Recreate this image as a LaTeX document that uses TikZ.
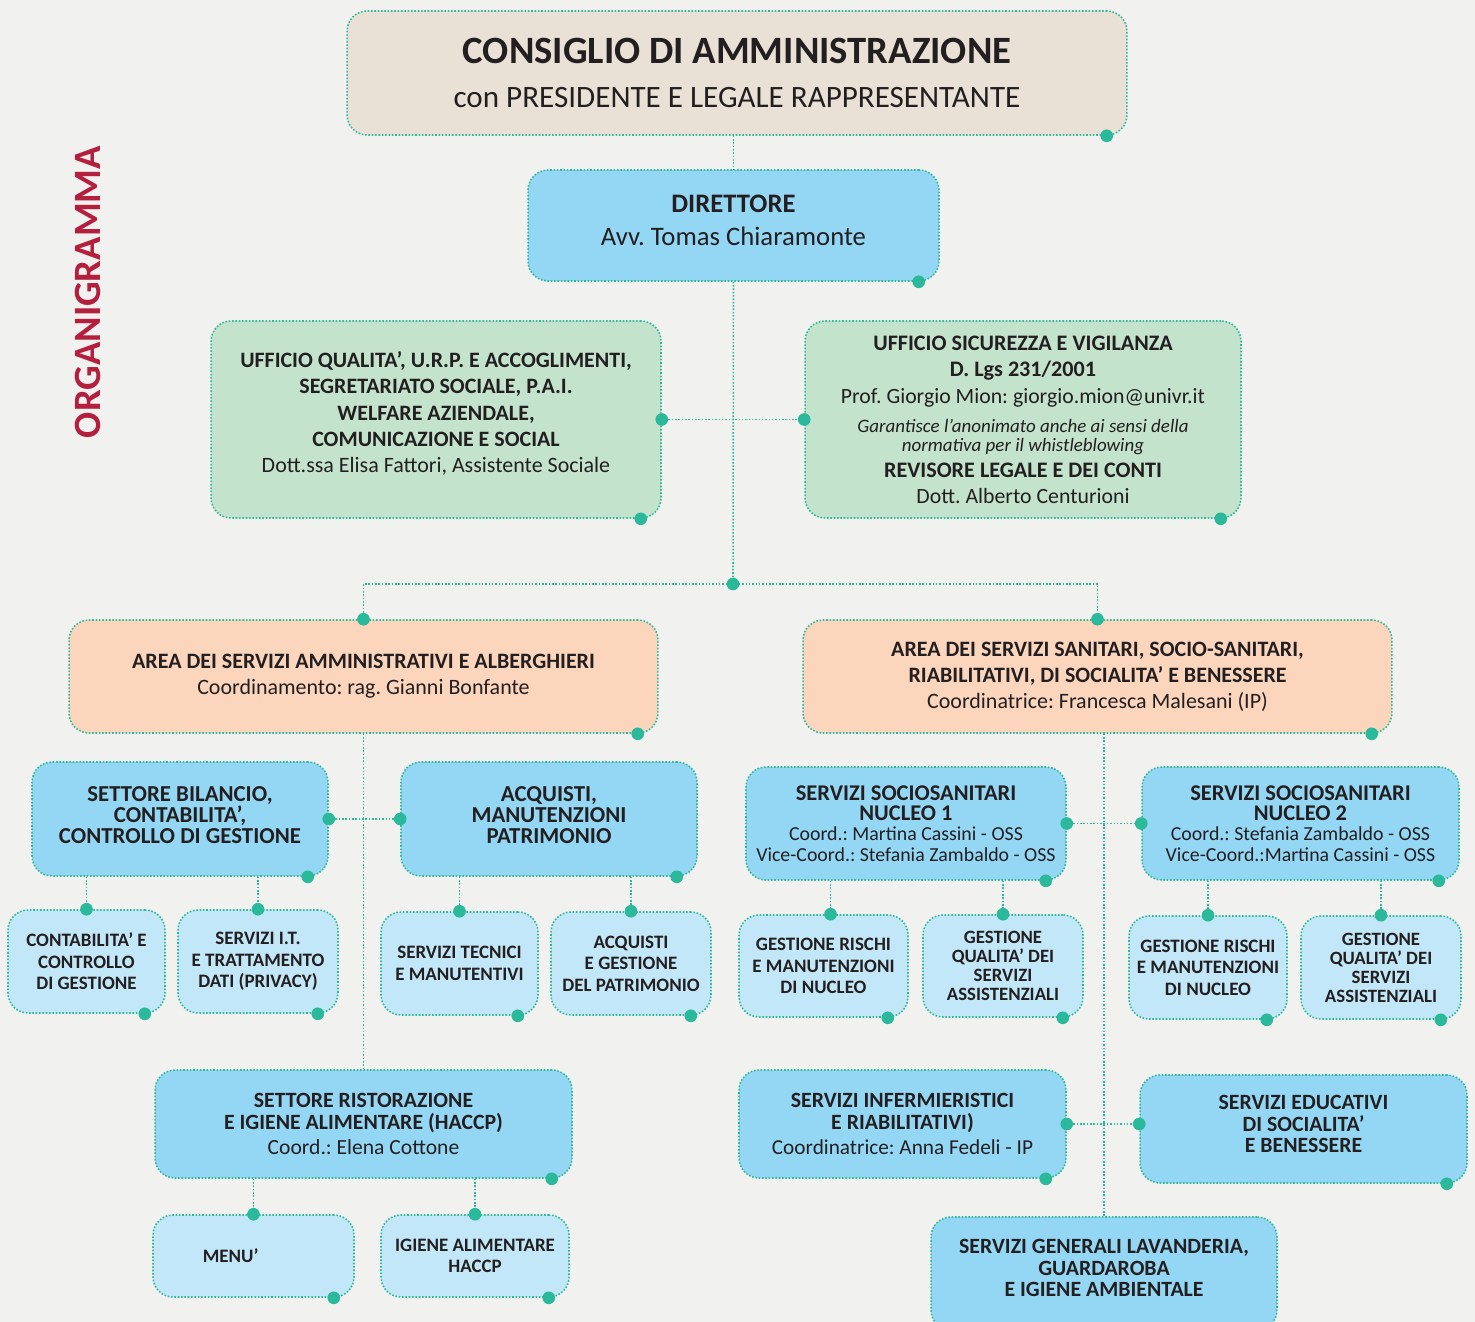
\documentclass[tikz,border=0pt]{standalone}
\usepackage{fontspec}
\setmainfont{Carlito}
\usetikzlibrary{calc}
\frenchspacing
\lineskiplimit=-20pt

\definecolor{sfondo}{HTML}{F1F1EF}
\definecolor{acqua}{HTML}{2BB99B}
\definecolor{beige}{HTML}{E9E1D5}
\definecolor{azzurro}{HTML}{94D7F5}
\definecolor{celeste}{HTML}{C2E7F8}
\definecolor{menta}{HTML}{C3E3CC}
\definecolor{pesca}{HTML}{FCD5BD}
\definecolor{rosso}{HTML}{B51F3E}
\definecolor{inchiostro}{HTML}{231F20}

\tikzset{
  riquadro/.style={rectangle, rounded corners=0.4cm, draw=acqua, densely dotted, line width=0.9pt, align=center, text=inchiostro, inner sep=0pt},
  blu/.style={riquadro, fill=azzurro, font=\bfseries\fontsize{12.4}{12.2}\selectfont},
  chiaro/.style={riquadro, fill=celeste, font=\bfseries\fontsize{10.8}{12.2}\selectfont},
  verde/.style={riquadro, fill=menta},
  arancio/.style={riquadro, fill=pesca, minimum width=11.78cm, minimum height=2.26cm, font=\bfseries\fontsize{12.5}{14.7}\selectfont},
  collega/.style={draw=acqua, densely dotted, line width=0.9pt}
}

\begin{document}
\begin{tikzpicture}[x=0.02cm, y=-0.02cm]
\useasboundingbox (0,0) rectangle (1475,1322);
\fill[sfondo] (0,0) rectangle (1475,1322);
\clip (0,0) rectangle (1475,1322);

\node (titolo) [rotate=90, text=rosso, font=\bfseries\fontsize{22}{22}\selectfont] at (88,292) {ORGANIGRAMMA};

% vertice
\node (cda) [riquadro, fill=beige, minimum width=15.6cm, minimum height=2.48cm, font=\fontsize{17.7}{25}\selectfont] at (737,73) {\bfseries\fontsize{22}{25}\selectfont CONSIGLIO DI AMMINISTRAZIONE\\con PRESIDENTE E LEGALE RAPPRESENTANTE};
\node (dir) [riquadro, fill=azzurro, minimum width=8.22cm, minimum height=2.22cm, text depth=5.6pt, font=\fontsize{15.2}{18.7}\selectfont] at (733.5,225.5) {\bfseries DIRETTORE\\Avv. Tomas Chiaramonte};

% uffici di staff
\node (urp) [verde, minimum width=9cm, minimum height=3.94cm, text depth=8.4pt, font=\bfseries\fontsize{12.5}{15}\selectfont] at (436,419.5) {UFFICIO QUALITA’, U.R.P. E ACCOGLIMENTI,\\SEGRETARIATO SOCIALE, P.A.I.\\WELFARE AZIENDALE,\\COMUNICAZIONE E SOCIAL\\\mdseries Dott.ssa Elisa Fattori, Assistente Sociale};
\node (sic) [verde, minimum width=8.72cm, minimum height=3.94cm, font=\bfseries\fontsize{12.6}{10.8}\selectfont] at (1023,419.5) {UFFICIO SICUREZZA E VIGILANZA\\[4pt]D. Lgs 231/2001\\[4.5pt]\mdseries\fontsize{12.4}{10.8}\selectfont Prof. Giorgio Mion: giorgio.mion@univr.it\\[5.7pt]\mdseries\itshape\fontsize{10.8}{10.8}\selectfont Garantisce l’anonimato anche ai sensi della\\\mdseries\itshape\fontsize{10.8}{10.8}\selectfont normativa per il whistleblowing\\[4pt]REVISORE LEGALE E DEI CONTI\\[4pt]\mdseries\fontsize{12.4}{10.8}\selectfont Dott. Alberto Centurioni};

% aree
\node (amm) [arancio] at (363.5,676.5) {AREA DEI SERVIZI AMMINISTRATIVI E ALBERGHIERI\\\mdseries Coordinamento: rag. Gianni Bonfante};
\node (san) [arancio] at (1097.5,676.5) {AREA DEI SERVIZI SANITARI, SOCIO-SANITARI,\\RIABILITATIVI, DI SOCIALITA’ E BENESSERE\\\mdseries Coordinatrice: Francesca Malesani (IP)};

% area amministrativa
\node (bil) [blu, minimum width=5.92cm, minimum height=2.28cm, text depth=4.6pt, font=\bfseries\fontsize{13}{12.2}\selectfont] at (180,819) {SETTORE BILANCIO,\\CONTABILITA’,\\CONTROLLO DI GESTIONE};
\node (acq) [blu, minimum width=5.92cm, minimum height=2.28cm, text depth=4.6pt, font=\bfseries\fontsize{13}{12.2}\selectfont] at (549,819) {ACQUISTI,\\MANUTENZIONI\\PATRIMONIO};
\node (con) [chiaro, minimum width=3.14cm, minimum height=2.06cm] at (86.5,961.5) {CONTABILITA’ E\\CONTROLLO\\DI GESTIONE};
\node (it) [chiaro, minimum width=3.2cm, minimum height=2.06cm] at (258,961.5) {SERVIZI I.T.\\E TRATTAMENTO\\DATI (PRIVACY)};
\node (tec) [chiaro, minimum width=3.14cm, minimum height=2.06cm] at (459.5,963.5) {SERVIZI TECNICI\\E MANUTENTIVI};
\node (acqg) [chiaro, minimum width=3.2cm, minimum height=2.06cm] at (631,963.5) {ACQUISTI\\E GESTIONE\\DEL PATRIMONIO};
\node (ris) [blu, minimum width=8.34cm, minimum height=2.16cm] at (363.5,1124) {SETTORE RISTORAZIONE\\E IGIENE ALIMENTARE (HACCP)\\[2.3pt]\mdseries\fontsize{12.3}{12.2}\selectfont Coord.: Elena Cottone};
\node (menu) [chiaro, minimum width=4.02cm, minimum height=1.64cm] at (253.5,1256) {MENU’\hspace*{26pt}};
\node (hac) [chiaro, minimum width=3.76cm, minimum height=1.64cm] at (475,1256) {IGIENE ALIMENTARE\\HACCP};

% area sanitaria
\node (n1) [blu, minimum width=6.4cm, minimum height=2.26cm, font=\bfseries\fontsize{12.8}{11.6}\selectfont] at (906,823.5) {SERVIZI SOCIOSANITARI\\NUCLEO 1\\\mdseries\fontsize{11.3}{11.6}\selectfont Coord.: Martina Cassini - OSS\\\mdseries\fontsize{11.3}{11.6}\selectfont Vice-Coord.: Stefania Zambaldo - OSS};
\node (n2) [blu, minimum width=6.34cm, minimum height=2.26cm, font=\bfseries\fontsize{12.8}{11.6}\selectfont] at (1300.5,823.5) {SERVIZI SOCIOSANITARI\\NUCLEO 2\\\mdseries\fontsize{11.3}{11.6}\selectfont Coord.: Stefania Zambaldo - OSS\\\mdseries\fontsize{11.3}{11.6}\selectfont Vice-Coord.:Martina Cassini - OSS};
\node (gr1) [chiaro, minimum width=3.38cm, minimum height=2.04cm] at (823.5,966) {GESTIONE RISCHI\\E MANUTENZIONI\\DI NUCLEO};
\node (gq1) [chiaro, minimum width=3.2cm, minimum height=2.04cm, font=\bfseries\fontsize{10.7}{10.8}\selectfont] at (1003,966) {GESTIONE\\QUALITA’ DEI\\SERVIZI\\ASSISTENZIALI};
\node (gr2) [chiaro, minimum width=3.16cm, minimum height=2.06cm] at (1208,967.5) {GESTIONE RISCHI\\E MANUTENZIONI\\DI NUCLEO};
\node (gq2) [chiaro, minimum width=3.2cm, minimum height=2.06cm, font=\bfseries\fontsize{10.7}{10.8}\selectfont] at (1381,967.5) {GESTIONE\\QUALITA’ DEI\\SERVIZI\\ASSISTENZIALI};
\node (inf) [blu, minimum width=6.54cm, minimum height=2.16cm] at (902.5,1124) {SERVIZI INFERMIERISTICI\\E RIABILITATIVI)\\[2.3pt]\mdseries\fontsize{12.1}{12.2}\selectfont Coordinatrice: Anna Fedeli - IP};
\node (edu) [blu, minimum width=6.54cm, minimum height=2.16cm, text depth=5.4pt] at (1303.5,1129) {SERVIZI EDUCATIVI\\DI SOCIALITA’\\E BENESSERE};
\node (gen) [blu, minimum width=6.92cm, minimum height=2.26cm, text depth=6.4pt] at (1104,1273.5) {SERVIZI GENERALI LAVANDERIA,\\GUARDAROBA\\E IGIENE AMBIENTALE};

% collegamenti
\coordinate (snodo) at (733,584);
\coordinate (gr1top) at ($(gr1.north)+(7,0)$);
\draw[collega] (dir.north |- cda.south) -- (dir.north);
\draw[collega] (dir.south) -- (snodo);
\draw[collega] (urp.east) -- (sic.west);
\draw[collega] (amm.north) -- (amm.north |- snodo) -- (san.north |- snodo) -- (san.north);
\draw[collega] (amm.south) -- (ris.north);
\draw[collega] (gen.north |- san.south) -- (gen.north);
\draw[collega] (bil.east) -- (acq.west);
\draw[collega] (con.north |- bil.south) -- (con.north);
\draw[collega] (it.north |- bil.south) -- (it.north);
\draw[collega] (tec.north |- acq.south) -- (tec.north);
\draw[collega] (acqg.north |- acq.south) -- (acqg.north);
\draw[collega] (n1.east) -- (n2.west);
\draw[collega] (gr1top |- n1.south) -- (gr1top);
\draw[collega] (gq1.north |- n1.south) -- (gq1.north);
\draw[collega] (gr2.north |- n2.south) -- (gr2.north);
\draw[collega] (gq2.north |- n2.south) -- (gq2.north);
\draw[collega] (menu.north |- ris.south) -- (menu.north);
\draw[collega] (hac.north |- ris.south) -- (hac.north);
\draw[collega] (inf.east) -- (inf.east -| edu.west);

% pallini
\foreach \p in {snodo, amm.north, san.north, urp.east, sic.west, bil.east, acq.west, n1.east, n2.west, inf.east, inf.east -| edu.west, con.north, it.north, tec.north, acqg.north, gr1top, gq1.north, gr2.north, gq2.north, menu.north, hac.north}
  \fill[acqua] (\p) circle[radius=3.6pt];
\foreach \n in {cda, dir, urp, sic, amm, san, bil, acq, con, it, tec, acqg, ris, menu, hac, n1, n2, gr1, gq1, gr2, gq2, inf, edu, gen}
  \fill[acqua] ($(\n.south east)+(-21,0)$) circle[radius=3.6pt];
\end{tikzpicture}
\end{document}
